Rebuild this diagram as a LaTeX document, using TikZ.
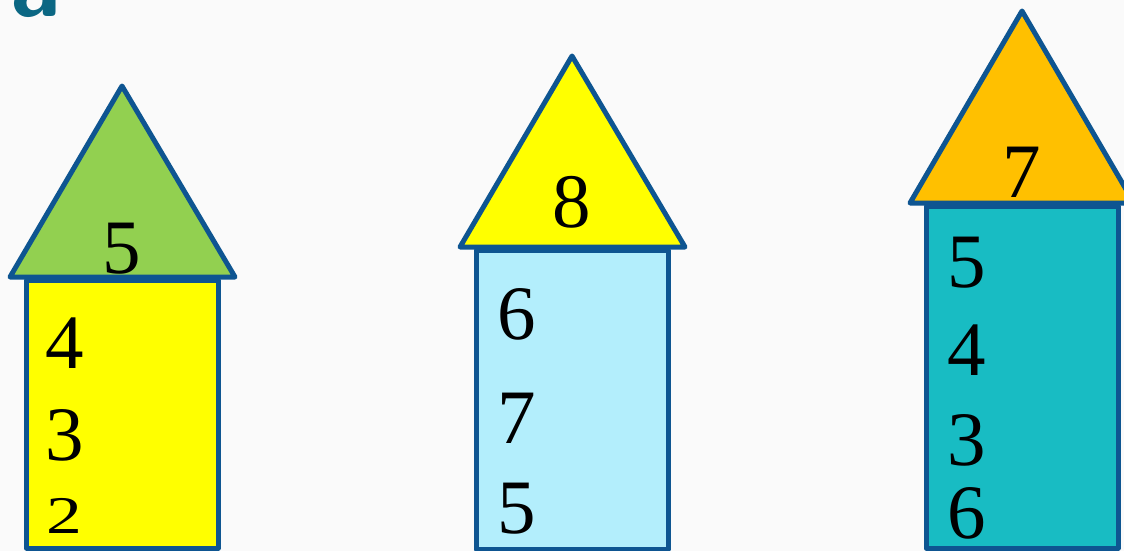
\documentclass[tikz,border=0pt]{standalone}
\usepackage{fontspec}
\usepackage{graphicx}
\setmainfont{Liberation Serif}
\definecolor{edge}{HTML}{0E5591}
\definecolor{roofgreen}{HTML}{92D050}
\definecolor{wallyellow}{HTML}{FFFF00}
\definecolor{roofyellow}{HTML}{FFFF00}
\definecolor{walllight}{HTML}{B3EEFC}
\definecolor{wallteal}{HTML}{18BCC3}
\definecolor{rooforange}{HTML}{FFC000}
\definecolor{titleteal}{HTML}{0B6783}
\definecolor{bg}{HTML}{FAFAFA}
\tikzset{
  part/.style={draw=edge, line width=5pt, line join=round},
  digit/.style={anchor=base west, inner sep=0pt, font=\fontsize{77}{77}\selectfont},
  roofdigit/.style={anchor=base, inner sep=0pt, font=\fontsize{77}{77}\selectfont},
}
\begin{document}
\begin{tikzpicture}[x=1pt,y=-1pt]
\useasboundingbox (0,0) rectangle (1124,551);
\fill[bg] (0,0) rectangle (1124,551);
% title fragment
\node[anchor=base west, inner sep=0pt, text=titleteal, font=\sffamily\bfseries\fontsize{96}{96}\selectfont] (title) at (10,17) {a};
% house 1
\draw[part, fill=wallyellow] (26.5,280) rectangle (218,548);
\draw[part, fill=roofgreen] (10,277) -- (122,86) -- (235,277) -- cycle;
\node[roofdigit] (r1) at (122,273) {5};
\node[digit] (a1) at (45,368) {4};
\node[digit] (a2) at (45,460) {3};
\node[digit, font=\fontsize{53}{53}\selectfont] (a3) at (46,533) {\scalebox{1.35}[1]{2}};
% house 2
\draw[part, fill=walllight] (476,250) rectangle (668,549);
\draw[part, fill=roofyellow] (460,247) -- (572,56) -- (685,247) -- cycle;
\node[roofdigit] (r2) at (572,227) {8};
\node[digit] (b1) at (497,339) {6};
\node[digit] (b2) at (497,443) {7};
\node[digit] (b3) at (497,533) {5};
% house 3
\draw[part, fill=wallteal] (926,206) rectangle (1118,548);
\draw[part, fill=rooforange] (910,203) -- (1022,11) -- (1134,203) -- cycle;
\node[roofdigit] (r3) at (1022,197) {7};
\node[digit] (c1) at (947,287) {5};
\node[digit] (c2) at (947,375) {4};
\node[digit] (c3) at (947,465) {3};
\node[digit] (c4) at (947,538) {6};
\end{tikzpicture}
\end{document}
